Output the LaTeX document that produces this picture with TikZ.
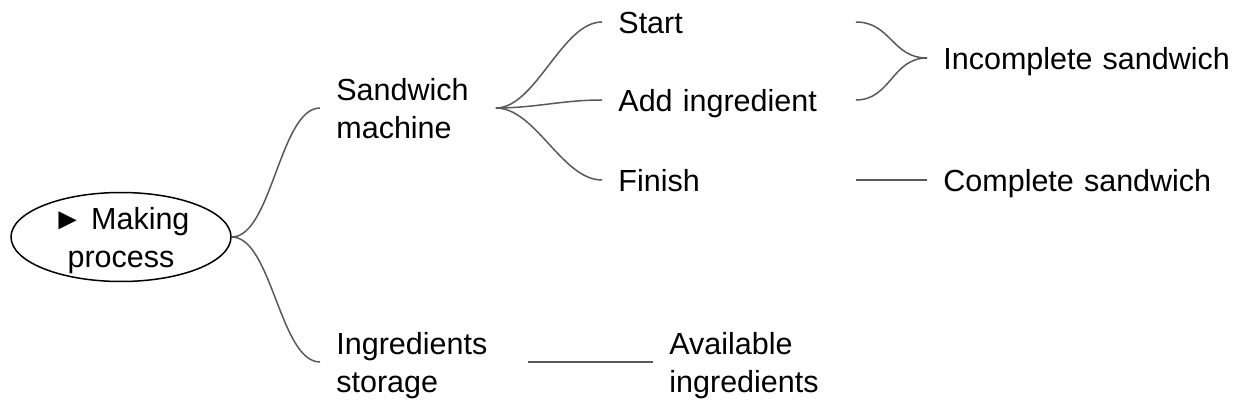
\documentclass[tikz,border=0pt]{standalone}
\usepackage{fontspec}
\setmainfont{Liberation Sans}
\usetikzlibrary{shapes.geometric}

\tikzset{
  label font/.style={font=\fontsize{15.25pt}{19pt}\selectfont},
  leaf/.style={label font, anchor=west, align=left, inner xsep=8pt, inner ysep=0pt},
  one line/.style={text height=11.1pt, text depth=0pt},
  two lines/.style={text depth=19pt},
  link/.style={draw=black!65, line width=0.75pt},
}

\begin{document}
\begin{tikzpicture}[x=0.5pt, y=-0.5pt]
  \useasboundingbox (0,0) rectangle (1248,406);
  \path (121,237) node[ellipse, draw, line width=0.75pt, minimum width=110pt, minimum height=44.5pt, inner sep=0pt, align=center, text depth=0pt, label font] (proc) {► Making\\process};
  \path (320,108) node[leaf, two lines, text width=71.5pt] (machine) {Sandwich\\machine}
        (320,362) node[leaf, two lines, text width=87.5pt] (storage) {Ingredients\\storage}
        (602,22) node[leaf, one line, text width=110.5pt] (start) {Start}
        (602,100) node[leaf, one line, text width=110.5pt] (add) {Add ingredient}
        (602,180) node[leaf, one line, text width=110.5pt] (finish) {Finish}
        (927,58) node[leaf, one line, text width=150pt] (incomplete) {Incomplete sandwich}
        (927,180) node[leaf, one line, text width=150pt] (complete) {Complete sandwich}
        (653,362) node[leaf, two lines, text width=100pt] (available) {Available\\ingredients};
  % branches from the root
  \draw[link] (proc.east) .. controls +(40,0) and +(-40,0) .. (machine.west);
  \draw[link] (proc.east) .. controls +(40,0) and +(-40,0) .. (storage.west);
  % machine steps
  \draw[link] (machine.east) .. controls +(40,0) and +(-40,0) .. (start.west);
  \draw[link] (machine.east) .. controls +(40,0) and +(-40,0) .. (add.west);
  \draw[link] (machine.east) .. controls +(40,0) and +(-40,0) .. (finish.west);
  % results
  \draw[link] (start.east) .. controls +(35,0) and +(-35,0) .. (incomplete.west);
  \draw[link] (add.east) .. controls +(35,0) and +(-35,0) .. (incomplete.west);
  \draw[link] (finish.east) -- (complete.west);
  \draw[link] (storage.east) -- (available.west);
\end{tikzpicture}
\end{document}
